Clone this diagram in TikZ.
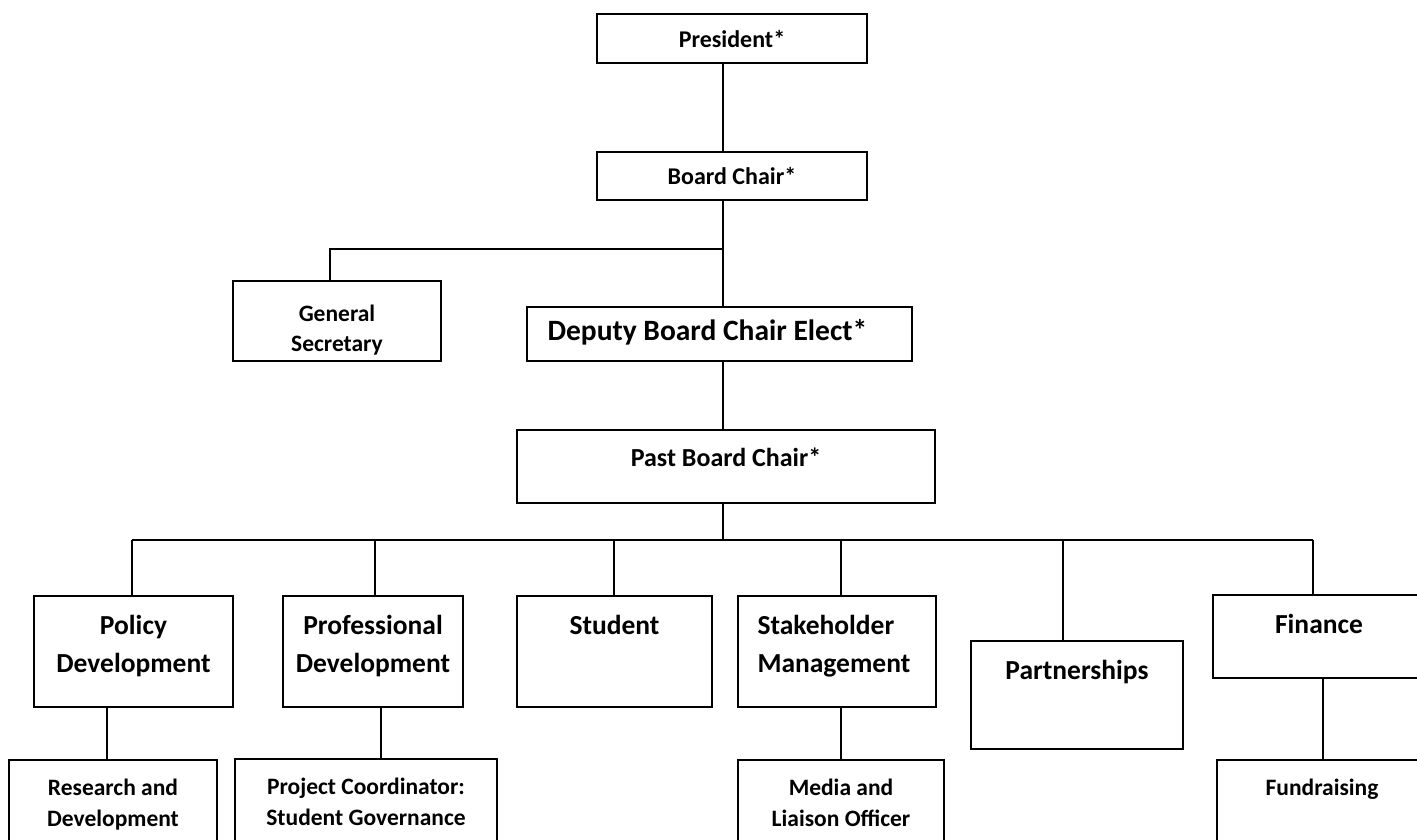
\documentclass[tikz,border=0pt]{standalone}
\usepackage{fontspec}
\setmainfont{Carlito}
\usetikzlibrary{positioning}
\tikzset{
  orgbox/.style={draw, line width=1.4pt, inner sep=0pt, align=center,
                 font=\bfseries\fontsize{24}{30}\selectfont},
  toptext/.style={anchor=north, align=center, inner sep=0pt, yshift=-20pt,
                  font=\bfseries\fontsize{27.5}{38}\selectfont},
  lowtext/.style={anchor=north, align=center, inner sep=0pt, yshift=-19pt,
                  font=\bfseries\fontsize{23.5}{31}\selectfont},
  link/.style={line width=1.6pt},
  busline/.style={line width=2.2pt}
}
\begin{document}
\begin{tikzpicture}[x=1pt, y=-1pt]
  \clip (0,0) rectangle (1417,839);
  \fill[white] (0,0) rectangle (1417,839);

  % top of the chart
  \node[orgbox, minimum width=270, minimum height=49] (pres) at (732,38.5) {President*};
  \node[orgbox, minimum width=270, minimum height=48] (board) at (732,176) {Board Chair*};
  \node[orgbox, minimum width=208, minimum height=80,
        label={[lowtext, yshift=-6pt, font=\bfseries\fontsize{23.5}{30}\selectfont]90:General\\Secretary}]
        (gensec) at (337,321) {};
  \node[orgbox, minimum width=385, minimum height=54,
        label={[anchor=west, inner sep=0pt, xshift=21pt, yshift=2pt,
                font=\bfseries\fontsize{29.5}{35}\selectfont]180:Deputy Board Chair Elect*}]
        (deputy) at (719.5,334) {};
  \node[orgbox, minimum width=418, minimum height=73,
        label={[toptext, yshift=2pt, font=\bfseries\fontsize{26}{32}\selectfont]90:Past Board Chair*}]
        (past) at (726,466.5) {};

  % committees
  \node[orgbox, minimum width=199, minimum height=111,
        label={[toptext]90:Policy\\Development}] (policy) at (133.5,651.5) {};
  \node[orgbox, minimum width=180, minimum height=111,
        label={[toptext]90:Professional\\Development}] (prof) at (373,651.5) {};
  \node[orgbox, minimum width=195, minimum height=111,
        label={[toptext]90:Student}] (student) at (614.5,651.5) {};
  \node[orgbox, minimum width=198, minimum height=111,
        label={[toptext, anchor=north west, align=left, xshift=-23.5pt]135:Stakeholder\\Management}]
        (stake) at (837,651.5) {};
  \node[orgbox, minimum width=212, minimum height=108,
        label={[toptext]90:Partnerships}] (partner) at (1077,695) {};
  \node[orgbox, minimum width=212, minimum height=83,
        label={[toptext]90:Finance}] (finance) at (1319,636.5) {};

  % officers
  \node[orgbox, minimum width=208, minimum height=120,
        label={[lowtext]90:Research and\\Development}] (research) at (113,820) {};
  \node[orgbox, minimum width=262, minimum height=120,
        label={[lowtext]90:Project Coordinator:\\Student Governance}] (projco) at (366,819) {};
  \node[orgbox, minimum width=206, minimum height=120,
        label={[lowtext]90:Media and\\Liaison Officer}] (media) at (841,820) {};
  \node[orgbox, minimum width=210, minimum height=120,
        label={[lowtext]90:Fundraising}] (fund) at (1322,820) {};

  % connectors
  \coordinate (spine) at (723,249);
  \coordinate (bus) at (723,540);
  \draw[link] (pres.south -| spine) -- (board.north -| spine);
  \draw[link] (board.south -| spine) -- (deputy.north -| spine);
  \draw[link] (spine) -| ([xshift=-7pt]gensec.north);
  \draw[link] (deputy.south -| spine) -- (past.north -| spine);
  \draw[link] (past.south -| bus) -- (bus);
  \draw[busline] ([xshift=-1.5pt]policy.north |- bus) -- ([xshift=-6pt]finance.north |- bus);
  \foreach \n/\dx in {policy/-1.5, prof/2, student/-0.5, stake/4, partner/-14, finance/-6}
    \draw[link] ([xshift=\dx pt]\n.north |- bus) -- ([xshift=\dx pt]\n.north);
  \foreach \a/\b/\dx in {policy/research/-6, prof/projco/15, stake/media/0, finance/fund/1}
    \draw[link] ([xshift=\dx pt]\b.north |- \a.south) -- ([xshift=\dx pt]\b.north);
\end{tikzpicture}
\end{document}
